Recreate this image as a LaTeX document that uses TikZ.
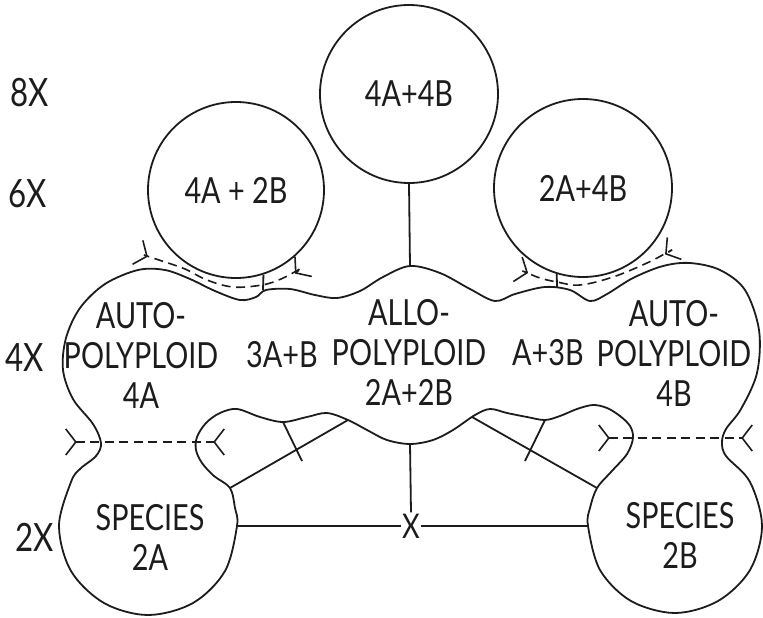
\documentclass[tikz,border=0pt]{standalone}
\usepackage{fontspec}
\setmainfont{Lato}[FakeStretch=0.8]
\usetikzlibrary{arrows.meta}
\definecolor{ink}{HTML}{1C1C1C}

\begin{document}
\begin{tikzpicture}[
    x=1pt, y=-1pt,
    line width=1.8pt,
    color=ink,
    every node/.style={text=ink},
    fork/.tip={Straight Barb[reversed, length=10pt, width=26pt, line width=1.6pt]},
    txt/.style={font=\fontsize{36}{40}\selectfont, align=center, inner sep=0pt},
    level/.style={font=\fontsize{39}{40}\selectfont, inner sep=0pt},
    ring/.style={circle, draw=ink, inner sep=0pt, minimum size=#1},
    cut/.style={dash pattern=on 9pt off 5.5pt, line width=1.6pt},
  ]

  \useasboundingbox (0,0) rectangle (763,618);

  % === Ploidy levels ===
  \node[level] (lv8) at (30,93)  {8X};
  \node[level] (lv6) at (28,194) {6X};
  \node[level] (lv4) at (25,358) {4X};
  \node[level] (lv2) at (35,537) {2X};

  % === Upper circles ===
  \node[ring=178pt, txt] (oct)  at (409,94)  {4A+4B};
  \node[ring=176pt, txt] (hexA) at (236,190) {4A + 2B};
  \node[ring=178pt, txt] (hexB) at (583,188) {2A+4B};

  % === Species circles (outline drawn with the blob) ===
  \node[circle, minimum size=178pt, inner sep=0pt] (spA) at (148,526) {};
  \node[circle, minimum size=174pt, inner sep=0pt] (spB) at (675,526) {};

  % points on the outline
  \coordinate (midTop) at (410,266);
  \coordinate (midBot) at (410,444);
  \coordinate (barA)   at (263,290);
  \coordinate (barB)   at (557,287);
  \coordinate (jA)     at (230,488);
  \coordinate (jB)     at (597,488);
  \coordinate (lobeA)  at (348,420);
  \coordinate (lobeB)  at (472,417);
  \coordinate (wavyA)  at (283,422);
  \coordinate (wavyB)  at (545,420);
  \coordinate (tickA)  at (302,461);
  \coordinate (tickB)  at (525,461);

  % === 4X blob joined to the two species ===
  \draw plot[smooth cycle, tension=0.55] coordinates {
    (101,443) (93,424) (73,399) (63,370) (66,338) (80,308) (105,284)
    (138,270) (165,270) (190,279) (215,291) (240,300) (256,297) (266,290)
    (290,289) (315,295) (337,298) (360,291) (383,277) (410,266) (440,273)
    (470,289) (495,301) (515,294) (545,287) (570,290) (590,301) (607,294)
    (633,278) (663,266) (690,263) (720,270) (745,290) (759,330) (757,373)
    (741,409) (726,429) (722,442) (726,456) (750,482) (762,526) (750,570)
    (718,601) (675,613) (631,601) (600,570) (588,526) (590,508) (597,488)
    (611,472) (627,454) (633,438) (630,426) (620,416) (607,408) (593,405)
    (577,409) (560,416) (545,420) (527,417) (507,413) (490,409) (475,415)
    (453,430) (433,440) (410,444) (387,440) (367,430) (348,420) (327,413)
    (307,417) (283,422) (260,417) (237,409) (220,413) (206,423) (197,437)
    (196,450) (202,463) (214,476) (230,488) (235,508) (237,526) (225,571)
    (193,603) (148,615) (104,603) (71,571) (59,526) (71,482) (80,469)
    (96,456)};

  % === Labels inside the blob ===
  \node[txt] (autoA) at (141,355) {AUTO-\\POLYPLOID\\4A};
  \node[txt] (triA)  at (282,355) {3A+B};
  \node[txt] (allo)  at (409,352) {ALLO-\\POLYPLOID\\2A+2B};
  \node[txt] (triB)  at (548,353) {A+3B};
  \node[txt] (autoB) at (674,353) {AUTO-\\POLYPLOID\\4B};
  \node[txt] (spAtxt) at (150,537) {SPECIES\\2A};
  \node[txt] (spBtxt) at (680,535) {SPECIES\\2B};

  % === Connectors ===
  \draw (oct.south) -- (midTop);
  \draw (hexA.-72) -- (barA);
  \draw (hexB.-107) -- (barB);

  % crosses to the triploids
  \draw (jA) -- (lobeA);
  \draw (wavyA) -- (tickA);
  \draw (lobeB) -- (jB);
  \draw (wavyB) -- (tickB);

  % species cross
  \node[txt, font=\fontsize{34}{34}\selectfont, inner sep=0.5pt] (crossC) at (411,526) {X};
  \draw (midBot) -- (crossC.north);
  \draw (spA.east) -- (crossC.west);
  \draw (crossC.east) -- (spB.west);

  % === Dashed doubling lines ===
  \draw[cut, fork-fork] plot[smooth, tension=0.6] coordinates {
    (137,252) (147,256) (162,261) (185,269) (207,280) (233,287) (262,285)
    (281,279) (298,270) (304,266)};
  \draw[cut, fork-fork] plot[smooth, tension=0.6] coordinates {
    (517,269) (525,272) (540,278) (557,282) (580,285) (613,277) (647,263)
    (668,252) (675,248)};
  \draw[cut, fork-fork] (65,442) -- (225,442);
  \draw[cut, fork-fork] (598,438) -- (753,438);

\end{tikzpicture}
\end{document}
